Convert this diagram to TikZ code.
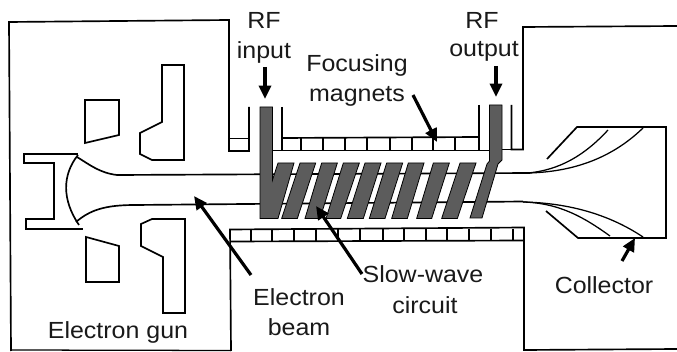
\documentclass[tikz,border=0pt]{standalone}
\usepackage{fontspec}
\setmainfont[FakeStretch=1.07]{Liberation Sans}
\usetikzlibrary{arrows.meta}
\definecolor{barfill}{gray}{0.36}
\tikzset{
  ln/.style={line width=1.25pt,black,line join=miter},
  thin ln/.style={line width=0.95pt,black},
  barshape/.style={draw=black,line width=0.6pt,fill=barfill},
  lbl/.style={font=\fontsize{17.5pt}{20pt}\selectfont,inner sep=0pt,text=black!90},
  pointer/.style={line width=2.4pt,black,-{Triangle[length=10pt,width=9pt]}},
}
\begin{document}
\begin{tikzpicture}[x=0.75pt,y=-0.75pt]
\useasboundingbox (0,0) rectangle (677,352);
% outer housing
\draw[ln] (11,351) -- (9,22) -- (229,20) -- (229,151) -- (249,151) -- (249,107);
\draw[ln] (228,138.5) -- (249,138.5);
\draw[ln] (282,107) -- (282,150.5);
\draw[ln] (272,150.5) -- (490,150.5);
\draw[ln] (282,138) -- (479,137);
\draw[ln] (479,105) -- (479,150.5);
\draw[ln] (511.5,105) -- (511.5,149.5) -- (523,149.5) -- (523,27) -- (677,26);
\draw[ln] (501,149.5) -- (512,149.5);
\foreach \x in {301,323,345,367,390,412,433,455}
  \draw[ln] (\x,138) -- (\x,150.5);
% lower magnets and housing
\draw[ln] (231,351) -- (230,229.5) -- (524,227.5) -- (524,350) -- (677,349);
\draw[ln] (230,241.5) -- (524,240.5);
\foreach \x in {251,272,294,316,338,360,383,404,426,447,469,491,513}
  \draw[ln] (\x,229) -- (\x,241);
\draw[thin ln] (11,350) -- (231,350.5);
% gun electrodes
\draw[ln] (85,100) -- (119,100) -- (119,135) -- (85,143) -- cycle;
\draw[ln] (162,65) -- (184,65) -- (184,160) -- (152,160) -- (140,154) -- (140,133) -- (162,122) -- cycle;
\draw[ln] (86,237) -- (119,246) -- (119,282) -- (86,282) -- cycle;
\draw[ln] (141,224) -- (152,219) -- (185,219) -- (185,313) -- (163,313) -- (163,257) -- (141,246) -- cycle;
% cathode
\draw[ln] (78,154) -- (24,154) -- (24,163) -- (54,163) -- (54,219) -- (26,219) -- (26,229) -- (83,229);
\draw[ln] (78,155) .. controls (62,175) and (62,200) .. (79,225);
% beam
\draw[ln] (77,157) .. controls (90,165) and (100,173) .. (117,175) -- (530,173);
\draw[ln] (76,222) .. controls (90,210) and (105,205) .. (135,205) -- (523,201.5);
% RF bars and slow-wave circuit
\foreach \a/\b/\c/\d in {
  240/287/232/185, 305/352/300/255, 370/418/362/318, 435/483/430/382,
  500/548/495/448, 565/612/562/515, 640/688/635/590, 720/768/712/665}
  \fill[barshape] ({220+\a/3},163) -- ({220+\b/3},163) -- ({220+\c/3},218.5) -- ({220+\d/3},218.5) -- cycle;
\fill[barshape] (260,107) -- (272.5,107) -- (272.5,180) -- (278,163) -- (294,163) -- (278,218.5) -- (260,218.5) -- cycle;
\fill[barshape] (489.5,105) -- (502,105) -- (502,160) -- (498,164) -- (482,218) -- (470,218) -- (487,164) -- (489.5,161) -- cycle;
% collector
\draw[ln] (547,159) -- (577,127) -- (666,127) -- (666,238) -- (578,238) -- (546,211);
\draw[thin ln] (528,173) .. controls (560,170) and (585,155) .. (608,130);
\draw[thin ln] (528,173) .. controls (570,172) and (610,160) .. (643,128);
\draw[thin ln] (523,202) .. controls (560,203) and (585,218) .. (610,236);
\draw[thin ln] (523,202) .. controls (570,203) and (610,215) .. (643,237);
% pointers
\coordinate (rfinT) at (265,67);   \coordinate (rfinH) at (265,99);
\coordinate (rfoutT) at (496,66);  \coordinate (rfoutH) at (496,97);
\coordinate (focT) at (413,95);    \coordinate (focH) at (437,142);
\coordinate (ebT) at (251,275);    \coordinate (ebH) at (194,196);
\coordinate (swT) at (362,274);    \coordinate (swH) at (316,206);
\coordinate (colT) at (622,261);   \coordinate (colH) at (635,238);
\draw[pointer] (rfinT) -- (rfinH);
\draw[pointer] (rfoutT) -- (rfoutH);
\draw[pointer] (focT) -- (focH);
\draw[pointer] (ebT) -- (ebH);
\draw[pointer] (swT) -- (swH);
\draw[pointer] (colT) -- (colH);
% labels
\node[lbl] (rfin1) at (264,20) {RF};
\node[lbl] (rfin2) at (264,52) {input};
\node[lbl] (rfout1) at (482,20) {RF};
\node[lbl] (rfout2) at (484,51) {output};
\node[lbl] (foc1) at (357,65) {Focusing};
\node[lbl] (foc2) at (357,96) {magnets};
\node[lbl] (gun) at (118,332) {Electron gun};
\node[lbl] (eb1) at (299,297) {Electron};
\node[lbl] (eb2) at (299,327) {beam};
\node[lbl] (sw1) at (423,274) {Slow-wave};
\node[lbl] (sw2) at (425,305) {circuit};
\node[lbl] (col) at (604,285) {Collector};
\end{tikzpicture}
\end{document}
